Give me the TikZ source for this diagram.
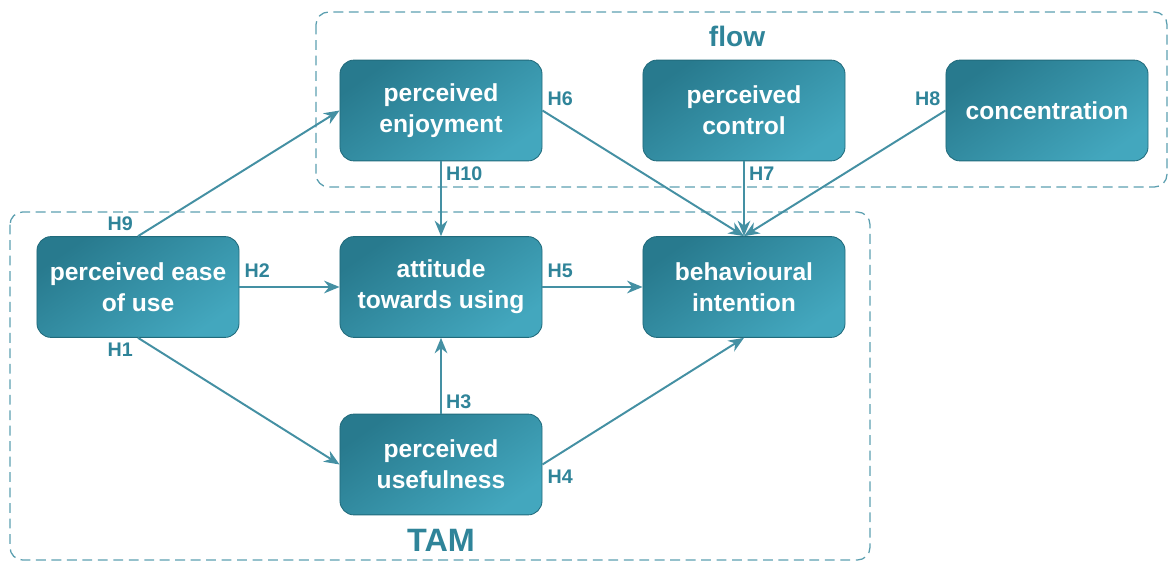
\documentclass[tikz,border=0pt]{standalone}
\usepackage{fontspec}
\setmainfont{Liberation Sans}
\usetikzlibrary{arrows.meta}

\definecolor{boxdark}{HTML}{287A8E}
\definecolor{boxlight}{HTML}{43A7BE}
\definecolor{boxedge}{HTML}{216B7C}
\definecolor{hypo}{HTML}{2F8499}
\definecolor{frame}{HTML}{5C9FB0}

\begin{document}
\begin{tikzpicture}[
      x=0.025cm, y=-0.025cm,
      line width=1.4pt,
      box/.style={draw=boxedge, line width=.6pt, rounded corners=10pt,
        top color=boxdark, bottom color=boxlight, shading angle=35,
        minimum width=5.05cm, minimum height=2.52cm, align=center,
        text=white, font=\fontsize{17.5}{22}\selectfont\bfseries},
      group/.style={draw=frame, line width=.9pt, dash pattern=on 7pt off 4pt,
        rounded corners=9pt},
      link/.style={draw=hypo!90!white, -{Stealth[length=11pt,width=9pt]}},
      hyp/.style={text=hypo, inner sep=3pt, font=\fontsize{14}{16}\selectfont\bfseries},
      grouplabel/.style={text=hypo, font=\bfseries}]

    % page
    \useasboundingbox (0,0) rectangle (1168,563);

    % dashed groups
    \draw[group] (316,12) rectangle (1167,187);
    \draw[group] (10,212) rectangle (870,560);
    \node (flowlabel) at (737,36) [grouplabel, font=\fontsize{20}{22}\selectfont\bfseries] {flow};
    \node (tamlabel) at (441,540) [grouplabel, font=\fontsize{23}{26}\selectfont\bfseries] {TAM};

    % flow y=110
    \node (enjoy) at (441,110.5) [box] {perceived\\enjoyment};
    \node (control) at (744,110.5) [box] {perceived\\control};
    \node (concentr) at (1047,110.5) [box] {concentration};

    % tam y=287
    \node (ease) at (138,287) [box] {perceived ease\\of use};
    \node (attitude) at (441,287) [box] {attitude\\towards using};
    \node (intention) at (744,287) [box] {behavioural\\intention};

    % tam y=464
    \node (useful) at (441,464.5) [box] {perceived\\usefulness};

    % hypotheses
    \draw[link] (ease.north) -- (enjoy.west) node[pos=0, hyp, above left] {H9};
    \draw[link] (ease.east) -- (attitude.west) node[pos=0, hyp, above right, yshift=3pt] {H2};
    \draw[link] (ease.south) -- (useful.west) node[pos=0, hyp, below left] {H1};
    \draw[link] (enjoy.south) -- (attitude.north) node[pos=0, hyp, below right] {H10};
    \draw[link] (useful.north) -- (attitude.south) node[pos=0, hyp, above right] {H3};
    \draw[link] (attitude.east) -- (intention.west) node[pos=0, hyp, above right, yshift=3pt] {H5};
    \draw[link] (useful.east) -- (intention.south) node[pos=0, hyp, below right] {H4};
    \draw[link] (enjoy.east) -- (intention.north) node[pos=0, hyp, above right] {H6};
    \draw[link] (control.south) -- (intention.north) node[pos=0, hyp, below right] {H7};
    \draw[link] (concentr.west) -- (intention.north) node[pos=0, hyp, above left] {H8};

  \end{tikzpicture}
\end{document}
